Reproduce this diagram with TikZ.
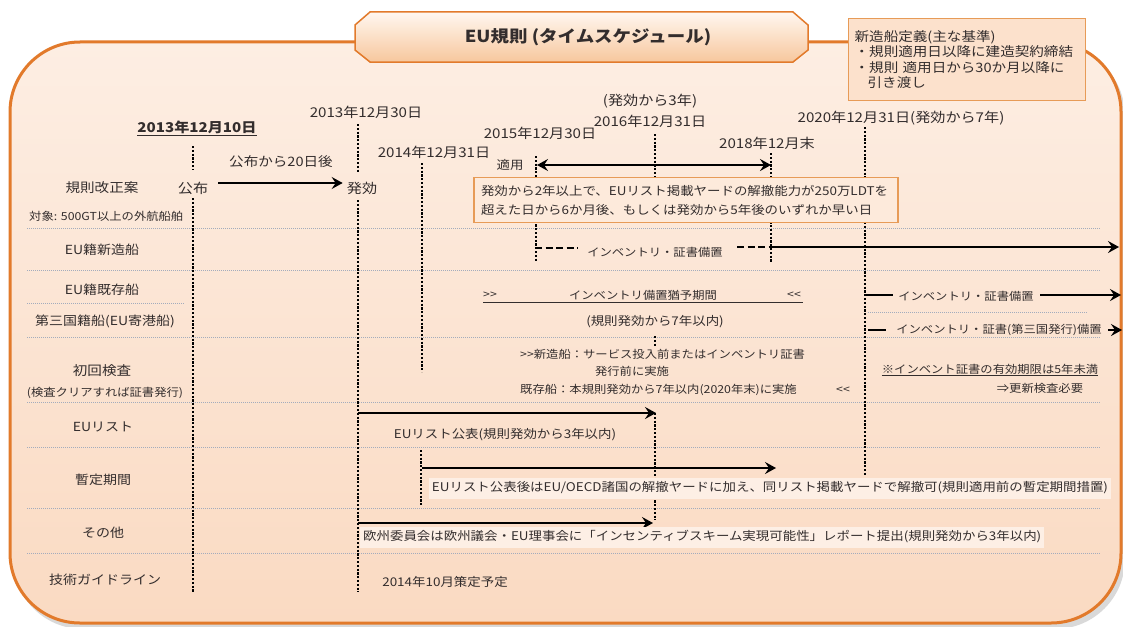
\documentclass[tikz,border=0pt]{standalone}
\usepackage{fontspec}
\setmainfont{Noto Sans CJK JP}[FakeStretch=1.12]
\usetikzlibrary{arrows.meta}
\definecolor{framec}{HTML}{E27A2B}
\definecolor{bgtop}{HTML}{FDEEE3}
\definecolor{bgbot}{HTML}{FADAC2}
\definecolor{titletop}{HTML}{FFF7F0}
\definecolor{titlebot}{HTML}{F7C79D}
\definecolor{boxline}{HTML}{E79B57}
\definecolor{boxfill}{HTML}{FDEADB}
\definecolor{infofill}{HTML}{FCE1CC}
\definecolor{sepc}{HTML}{A3ACBD}
\definecolor{txtc}{HTML}{332D2D}
\definecolor{maskc}{HTML}{FDEFE5}
\newcommand\fsz[1]{\fontsize{#1pt}{#1pt}\selectfont}
\begin{document}
\begin{tikzpicture}[x=1pt,y=-1pt,
  every node/.style={text=txtc, inner sep=0pt},
  lab/.style={font=\fsz{12.5}},
  dt/.style={font=\fsz{13.5}},
  bt/.style={font=\fsz{12}},
  sm/.style={font=\fsz{11}},
  vline/.style={black, line width=1.3pt, dash pattern=on 2.2pt off 1.6pt},
  sepl/.style={sepc, line width=1pt, dash pattern=on 1pt off 1pt},
  arr/.style={black, line width=2.6pt, -{Stealth[length=11pt,width=12pt,inset=4pt]}},
  darr/.style={black, line width=2.6pt, {Stealth[length=11pt,width=12pt,inset=4pt]}-{Stealth[length=11pt,width=12pt,inset=4pt]}},
  thk/.style={black, line width=2.6pt},
  dthk/.style={black, line width=2.4pt, dash pattern=on 7pt off 3.5pt},
  maskbox/.style={fill=maskc, inner xsep=3pt, minimum height=21pt}
]
\useasboundingbox (0,0) rectangle (1123,626);
\fill[white] (0,0) rectangle (1123,626);
% frame
\fill[black, opacity=0.15, rounded corners=70pt] (13,46) rectangle (1125,629);
\path[draw=framec, line width=3pt, top color=bgtop, bottom color=bgbot, rounded corners=70pt] (10,42) rectangle (1121,623);
% title
\path[draw=framec, line width=1.5pt, top color=titletop, bottom color=titlebot]
  (355,25) -- (370,12) -- (793,12) -- (808,25) -- (808,50) -- (793,62) -- (370,62) -- (355,50) -- cycle;
\node[font=\bfseries\fsz{16.5}] (title) at (588,37) {EU規則 (タイムスケジュール)};
% info box
\node[anchor=north west, draw=boxline, fill=infofill, line width=1.3pt, minimum width=237pt, minimum height=82pt,
  text width=225pt, align=left, font=\fontsize{13pt}{15.5pt}\selectfont] (def) at (848,18)
  {新造船定義(主な基準)\\・規則適用日以降に建造契約締結\\・規則 適用日から30か月以降に\\\hspace*{1em}引き渡し};
% separators
\foreach \yy in {228,270,337,402,447,508,553} \draw[sepl] (27,\yy) -- (1100,\yy);
\draw[sepl] (27,303) -- (185,303);
\draw[sepl] (868,312) -- (1088,312);
% vertical timeline lines
\draw[vline] (193,146) -- (193,170);
\draw[vline] (193,198) -- (193,592);
\draw[vline] (358,124) -- (358,172);
\draw[vline] (358,200) -- (358,592);
\draw[vline] (422,163) -- (422,372);
\draw[vline] (421,450) -- (421,505);
\draw[vline] (536,156) -- (536,262);
\draw[vline] (655,134) -- (655,178);
\draw[vline] (655,336) -- (655,347);
\draw[vline] (655,413) -- (655,520);
\draw[vline] (771,153) -- (771,262);
\draw[vline] (865,127) -- (865,178);
\draw[vline] (865,222) -- (865,476);
% row labels
\node[font=\fsz{13}] (lk) at (102,188) {規則改正案};
\node[sm, anchor=west] (ltarget) at (29,216) {対象: 500GT以上の外航船舶};
\node[lab] (lnew) at (102,250) {EU籍新造船};
\node[lab] (lexist) at (102,290) {EU籍既存船};
\node[lab] (lthird) at (105,321) {第三国籍船(EU寄港船)};
\node[font=\fsz{13}] (linsp) at (102,371) {初回検査};
\node[sm] (linsp2) at (105,393) {(検査クリアすれば証書発行)};
\node[lab] (llist) at (103,427) {EUリスト};
\node[lab] (linterim) at (103,480) {暫定期間};
\node[lab] (lother) at (103,533) {その他};
\node[lab] (lguide) at (105,580) {技術ガイドライン};
% dates
\node[font=\bfseries\fsz{13.5}] (d1) at (197,128) {\underline{2013年12月10日}};
\node[dt] (d2) at (366,112) {2013年12月30日};
\node[dt] (d3) at (434,152) {2014年12月31日};
\node[dt] (d4) at (540,133) {2015年12月30日};
\node[dt] (d5a) at (650,101) {(発効から3年)};
\node[dt] (d5) at (650,121) {2016年12月31日};
\node[dt] (d6) at (767,143) {2018年12月末};
\node[dt] (d7) at (901,118) {2020年12月31日(発効から7年)};
% row 1
\node[font=\fsz{13}] (pub20) at (281,162) {公布から20日後};
\node[font=\fsz{13.5}] (pub) at (193,188) {公布};
\node[font=\fsz{13.5}] (eff) at (362,188) {発効};
\draw[arr] ([xshift=10pt,yshift=5pt]pub.east) -- ([xshift=-4pt,yshift=5pt]eff.west);
\node[bt] (apply) at (510,165) {適用};
\coordinate (ap1) at (537,165);
\coordinate (ap2) at (771,165);
\draw[darr] (ap1) -- (ap2);
\node[draw=boxline, fill=boxfill, line width=1.3pt, minimum width=424pt, minimum height=45pt, text width=410pt,
  align=left, font=\fontsize{12pt}{19pt}\selectfont] (cond) at (686,200)
  {発効から2年以上で、EUリスト掲載ヤードの解撤能力が250万LDTを\\超えた日から6か月後、もしくは発効から5年後のいずれか早い日};
% EU new ships
\node[sm] (inv1) at (655,252) {インベントリ・証書備置};
\draw[dthk] (535,248) -- (578,248);
\draw[dthk] (737,247) -- (771,247);
\coordinate (n1) at (771,247);
\coordinate (n2) at (1119,247);
\draw[arr] (n1) -- (n2);
% EU existing ships
\node[sm] (grace) at (643,295) {インベントリ備置猶予期間};
\node[sm] (gl) at (490,295) {>\kern0pt>};
\node[sm] (gr) at (794,295) {<\kern0pt<};
\draw[txtc, line width=0.9pt] (483,302) -- (803,302);
\node[bt] (grace7) at (655,322) {(規則発効から7年以内)};
\node[sm] (inv2) at (966,296) {インベントリ・証書備置};
\draw[thk] (865,295) -- (893,295);
\coordinate (e1) at (1040,295);
\coordinate (e2) at (1121,295);
\draw[arr] (e1) -- (e2);
\node[sm] (inv3) at (999,330) {インベントリ・証書(第三国発行)備置};
\draw[thk] (868,330) -- (886,330);
\coordinate (t1) at (1108,330);
\coordinate (t2) at (1122,330);
\draw[arr] (t1) -- (t2);
% initial inspection
\node[sm, anchor=west] (ins1) at (520,354) {>\kern0pt>新造船：サービス投入前またはインベントリ証書};
\node[sm] (ins2) at (632,371) {発行前に実施};
\node[sm, anchor=west] (ins3) at (520,390) {既存船：本規則発効から7年以内(2020年末)に実施};
\node[sm] (ins4) at (843,390) {<\kern0pt<};
\node[sm] (note1) at (990,370) {\underline{※インベント証書の有効期限は5年未満}};
\node[sm] (note2) at (1040,388) {⇒更新検査必要};
% EU list
\coordinate (l1) at (358,413);
\coordinate (l2) at (656,413);
\draw[arr] (l1) -- (l2);
\node[bt] (listpub) at (505,435) {EUリスト公表(規則発効から3年以内)};
% interim
\coordinate (i1) at (422,468);
\coordinate (i2) at (776,468);
\draw[arr] (i1) -- (i2);
\node[bt, maskbox] (interim) at (770,488) {EUリスト公表後はEU/OECD諸国の解撤ヤードに加え、同リスト掲載ヤードで解撤可(規則適用前の暫定期間措置)};
% other
\coordinate (o1) at (358,523);
\coordinate (o2) at (653,523);
\draw[arr] (o1) -- (o2);
\node[bt, maskbox, anchor=west] (other) at (360,537) {欧州委員会は欧州議会・EU理事会に「インセンティブスキーム実現可能性」レポート提出(規則発効から3年以内)};
% guideline
\node[bt] (guide) at (445,582) {2014年10月策定予定};
\end{tikzpicture}
\end{document}
